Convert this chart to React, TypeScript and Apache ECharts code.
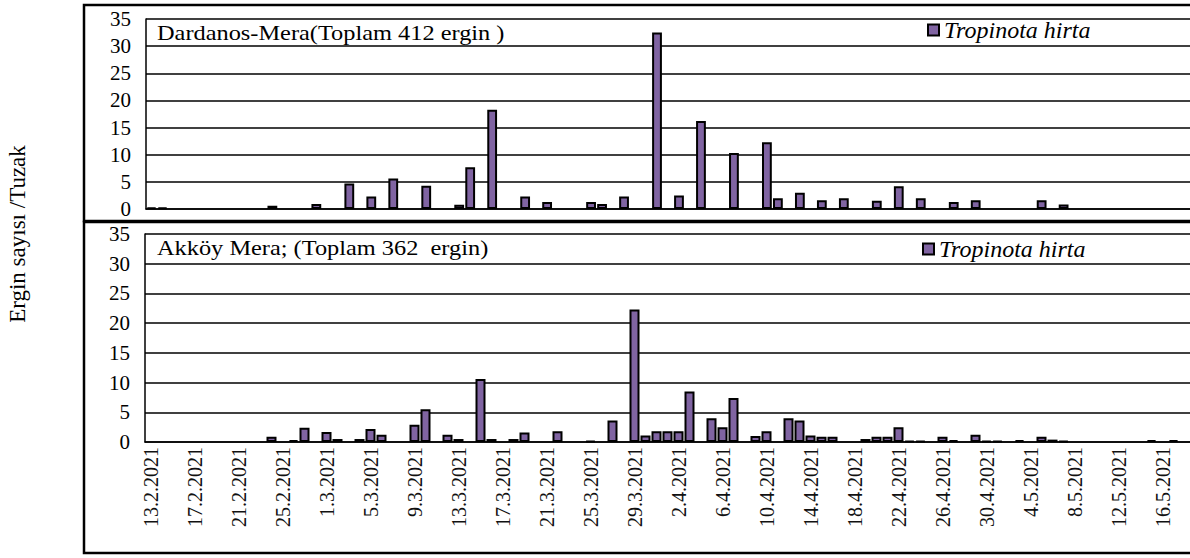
import React, { useEffect, useRef } from "react";
import * as echarts from "echarts";

// Categories: daily dates from 13.2.2021
const startDay = 13;
const startMonth = 2;
const dayCount = 95;
const monthLengths: Record<number, number> = { 2: 28, 3: 31, 4: 30, 5: 31 };
const dates: string[] = [];
{
  let d = startDay;
  let m = startMonth;
  for (let i = 0; i < dayCount; i++) {
    dates.push(`${d}.${m}.2021`);
    d++;
    if (d > monthLengths[m]) {
      d = 1;
      m++;
    }
  }
}

const seriesName = "Tropinota hirta";
const topTitle = "Dardanos-Mera(Toplam 412 ergin )";
const bottomTitle = "Akköy Mera; (Toplam 362  ergin)";
const yAxisTitle = "Ergin sayısı /Tuzak";

// Dardanos-Mera values (per day)
const dardanos: number[] = [
  0.25, 0.25, 0, 0, 0, 0, 0, 0, 0, 0,
  0, 0.6, 0, 0, 0, 0.9, 0, 0, 4.7, 0,
  2.3, 0, 5.6, 0, 0, 4.3, 0, 0, 0.8, 7.7,
  0, 18.3, 0, 0, 2.3, 0, 1.3, 0, 0, 0,
  1.3, 0.9, 0, 2.3, 0, 0, 32.5, 0, 2.5, 0,
  16.2, 0, 0, 10.3, 0, 0, 12.3, 2.0, 0, 3.0,
  0, 1.6, 0, 2.0, 0, 0, 1.5, 0, 4.2, 0,
  2.0, 0, 0, 1.3, 0, 1.6, 0, 0, 0, 0,
  0, 1.6, 0, 0.85, 0, 0, 0, 0, 0, 0,
  0, 0, 0, 0, 0,
];

// Akköy Mera values (per day)
const akkoy: number[] = [
  0, 0, 0, 0, 0, 0, 0, 0, 0, 0,
  0, 0.9, 0, 0.3, 2.4, 0, 1.7, 0.5, 0, 0.5,
  2.2, 1.2, 0, 0, 2.9, 5.5, 0, 1.2, 0.5, 0,
  10.6, 0.5, 0, 0.5, 1.6, 0, 0, 1.8, 0, 0,
  0.2, 0, 3.6, 0, 22.3, 1.1, 1.8, 1.8, 1.8, 8.5,
  0, 4.0, 2.5, 7.4, 0, 1.0, 1.8, 0, 4.0, 3.6,
  1.1, 0.9, 0.9, 0, 0, 0.5, 0.9, 0.9, 2.5, 0.2,
  0.2, 0, 0.9, 0.3, 0, 1.2, 0.2, 0.2, 0, 0.3,
  0, 0.9, 0.4, 0.2, 0, 0, 0, 0, 0, 0,
  0, 0.3, 0, 0.3, 0,
];

const yMin = 0;
const yMax = 35;
const yInterval = 5;

const FONT = "Liberation Serif, serif";
const PURPLE = "#8064A2";

export default function App() {
  const ref = useRef<HTMLDivElement>(null);

  useEffect(() => {
    if (!ref.current) return;
    const chart = echarts.init(ref.current, undefined, { renderer: "svg" });

    const yAxisCommon = {
      type: "value" as const,
      min: yMin,
      max: yMax,
      interval: yInterval,
      axisLine: { show: true, lineStyle: { color: "#000", width: 1.5 } },
      axisTick: { show: false },
      splitLine: { lineStyle: { color: "#000", width: 1.5 } },
      axisLabel: { fontSize: 21, color: "#000", margin: 15, fontFamily: FONT },
    };

    const barStyle = {
      color: PURPLE,
      borderColor: "#000",
      borderWidth: 2,
    };

    const legendCommon = {
      data: [seriesName],
      icon: "rect",
      itemWidth: 11,
      itemHeight: 11,
      padding: 0,
      textStyle: {
        fontFamily: FONT,
        fontStyle: "italic" as const,
        fontSize: 24,
        color: "#000",
      },
      selectedMode: false,
    };

    chart.setOption({
      animation: false,
      backgroundColor: "#fff",
      textStyle: { fontFamily: FONT },
      grid: [
        { left: 146, top: 19, width: 1044, height: 190 },
        { left: 145, top: 234, width: 1057, height: 208 },
      ],
      xAxis: [
        {
          type: "category",
          gridIndex: 0,
          data: dates,
          axisLine: { lineStyle: { color: "#000", width: 1.5 } },
          axisTick: { show: false },
          axisLabel: { show: false },
        },
        {
          type: "category",
          gridIndex: 1,
          data: dates,
          axisLine: { lineStyle: { color: "#000", width: 1.5 } },
          axisTick: { show: false },
          axisLabel: {
            rotate: 90,
            interval: 3,
            fontSize: 20,
            color: "#111",
            margin: 5,
            fontFamily: FONT,
          },
        },
      ],
      yAxis: [
        { ...yAxisCommon, gridIndex: 0 },
        { ...yAxisCommon, gridIndex: 1 },
      ],
      legend: [
        { ...legendCommon, left: 927, top: 18 },
        { ...legendCommon, left: 922, top: 237 },
      ],
      series: [
        {
          type: "bar",
          name: seriesName,
          xAxisIndex: 0,
          yAxisIndex: 0,
          data: dardanos.map((v) => (v === 0 ? "-" : v)),
          barWidth: 9.8,
          itemStyle: barStyle,
        },
        {
          type: "bar",
          name: seriesName,
          xAxisIndex: 1,
          yAxisIndex: 1,
          data: akkoy.map((v) => (v === 0 ? "-" : v)),
          barWidth: 10,
          itemStyle: barStyle,
        },
      ],
      graphic: [
        {
          type: "rect",
          shape: { x: 84, y: 5, width: 1130, height: 216 },
          style: { fill: "none", stroke: "#000", lineWidth: 2.5 },
          z: 10,
        },
        {
          type: "rect",
          shape: { x: 84, y: 222, width: 1130, height: 331 },
          style: { fill: "none", stroke: "#000", lineWidth: 2.5 },
          z: 10,
        },
        {
          type: "text",
          x: 157,
          y: 33,
          scaleX: 1.16,
          style: {
            text: topTitle,
            fontFamily: FONT,
            fontSize: 21,
            fill: "#000",
            verticalAlign: "middle",
          },
          z: 10,
        },
        {
          type: "text",
          x: 157,
          y: 248,
          scaleX: 1.16,
          style: {
            text: bottomTitle,
            fontFamily: FONT,
            fontSize: 21,
            fill: "#000",
            verticalAlign: "middle",
          },
          z: 10,
        },
        {
          type: "text",
          x: 17,
          y: 234,
          rotation: Math.PI / 2,
          style: {
            text: yAxisTitle,
            fontFamily: FONT,
            fontSize: 23,
            fill: "#000",
            align: "center",
            verticalAlign: "middle",
          },
        },
      ],
    });

    return () => chart.dispose();
  }, []);

  return (
    <div
      ref={ref}
      style={{ position: "absolute", left: 0, top: 0, width: 1190, height: 558 }}
    />
  );
}
